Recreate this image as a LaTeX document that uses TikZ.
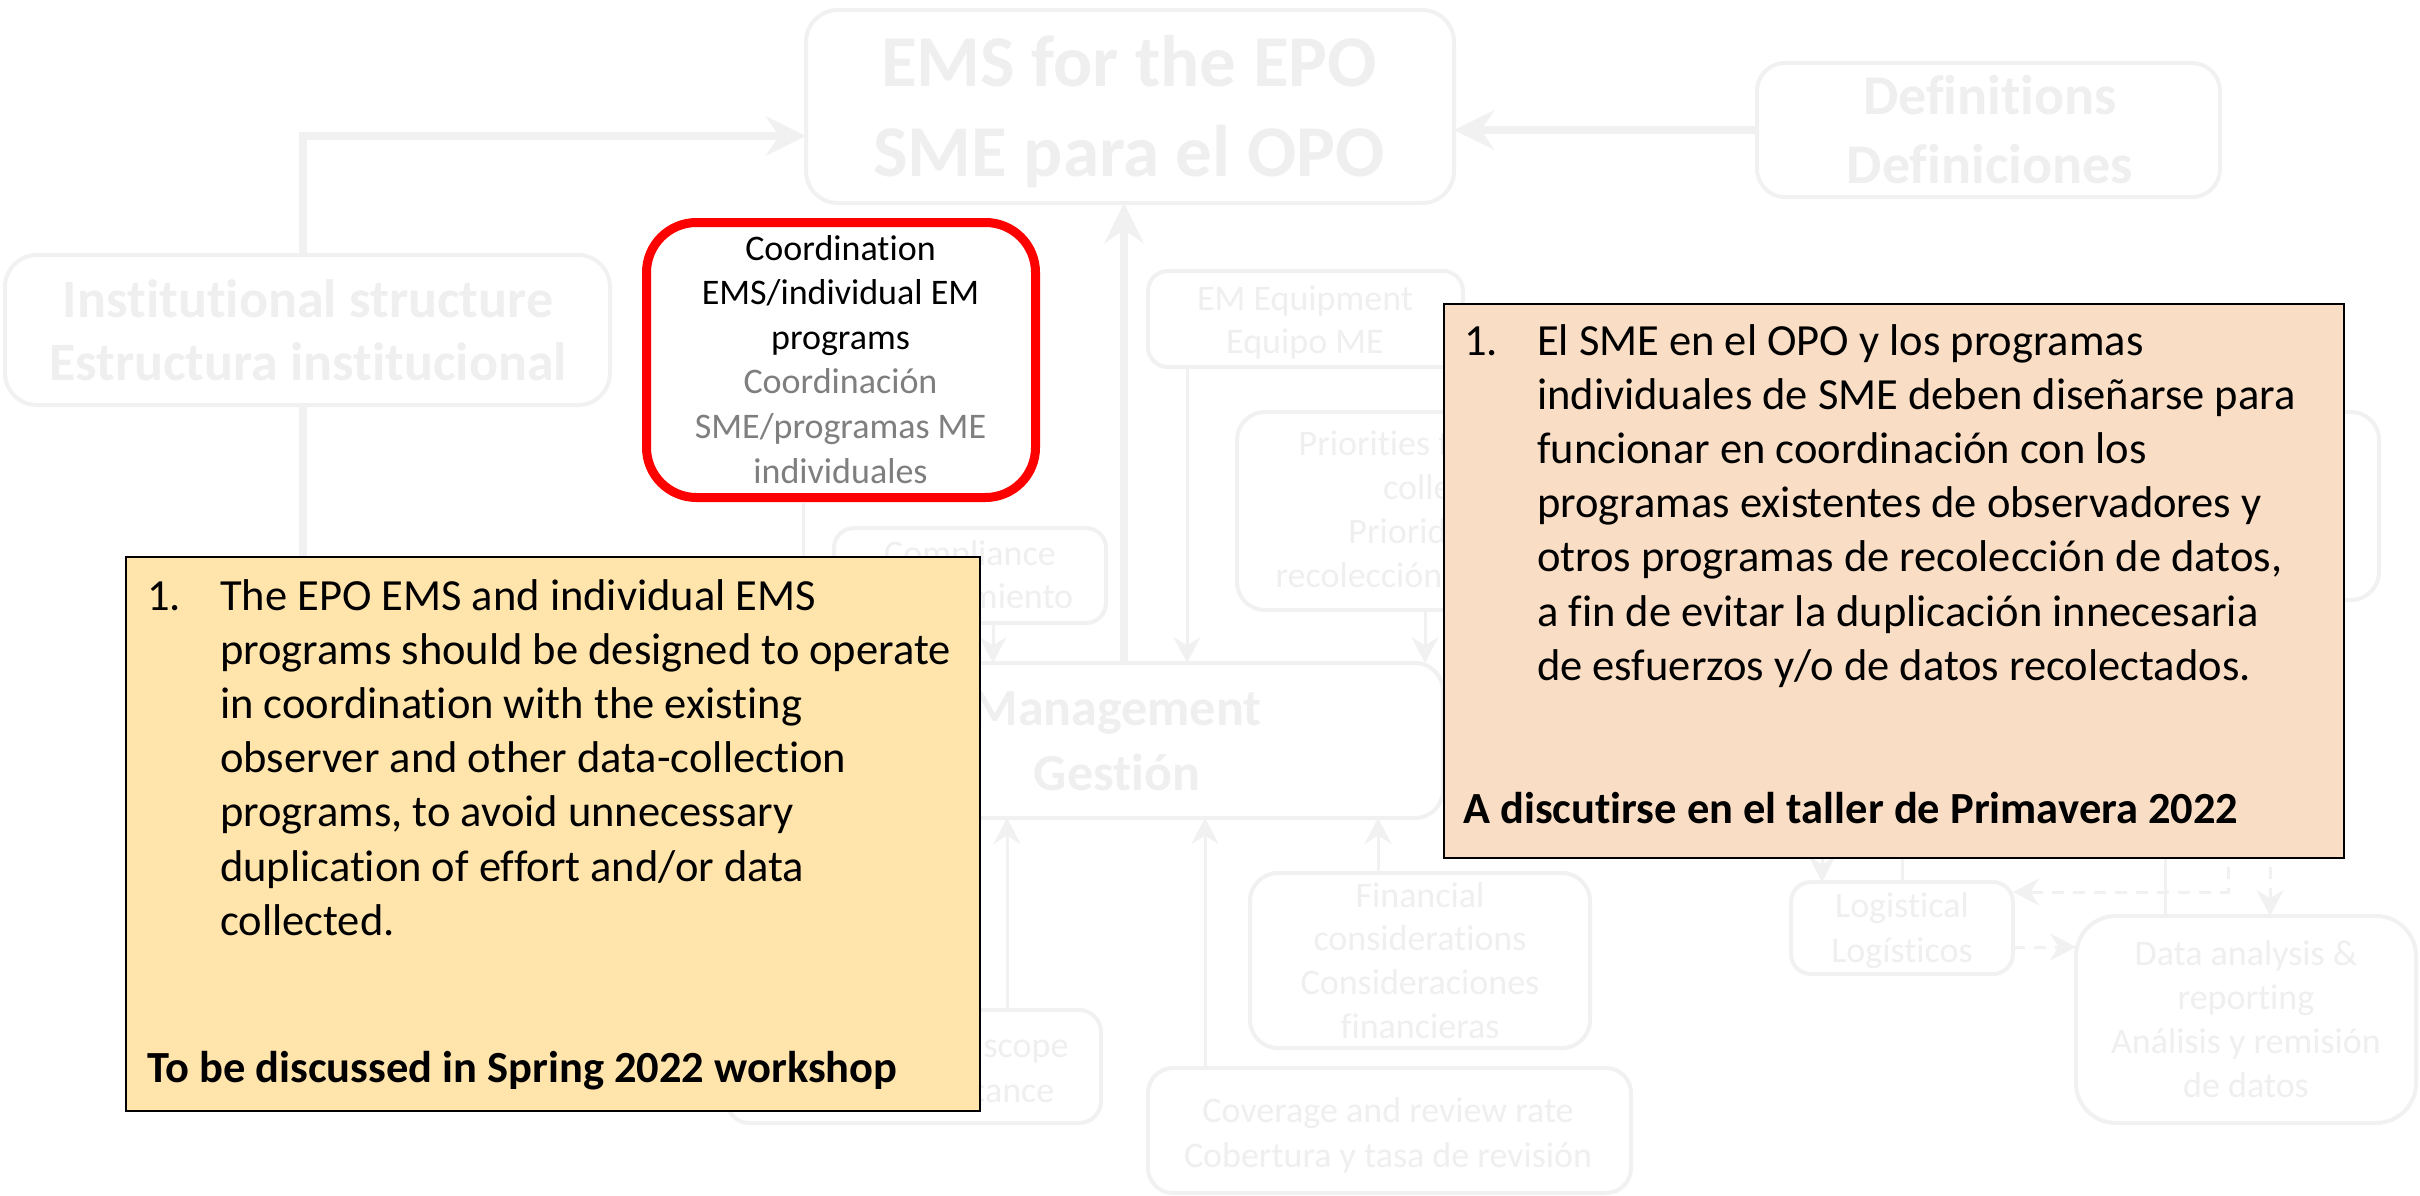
\documentclass[tikz,border=0pt]{standalone}
\usepackage{fontspec}
\setmainfont{Carlito}[Ligatures=NoCommon]
\usetikzlibrary{arrows.meta}
\definecolor{fadeln}{RGB}{241,241,241}
\definecolor{fadetxt}{RGB}{239,239,239}
\definecolor{redbox}{RGB}{255,0,0}
\definecolor{graytxt}{RGB}{127,127,127}
\definecolor{yelfill}{RGB}{255,228,172}
\definecolor{orafill}{RGB}{249,221,196}
\newcommand{\mlc}[1]{\begin{tabular}[t]{@{}c@{}}#1\end{tabular}}
\tikzset{
  fb/.style={draw=fadeln, line width=4pt, rounded corners=#1, inner sep=0pt, outer sep=0pt},
  fb/.default=24pt,
  ft/.style={text=fadetxt, inner sep=0pt, anchor=base},
  thickar/.style={draw=fadeln, line width=8pt, -{Stealth[length=40pt,width=39pt]}},
  thickln/.style={draw=fadeln, line width=8pt},
  thinar/.style={draw=fadeln, line width=3pt, -{Stealth[length=26pt,width=27pt]}},
  thinln/.style={draw=fadeln, line width=3pt},
  dashar/.style={thinar, dash pattern=on 12pt off 9pt},
  notebox/.style={draw=black, line width=2.5pt, inner sep=0pt, outer sep=0pt},
  notetxt/.style={anchor=base west, inner sep=0pt, text=black}
}
\begin{document}
\begin{tikzpicture}[x=1pt,y=-1pt]
\fill[white] (0,0) rectangle (2420,1196);
\useasboundingbox (0,0) rectangle (2420,1196);

% ---------- faded background boxes ----------
\node[fb=32pt, minimum width=648pt, minimum height=193pt] (ems) at (1130,106.5) {};
\node[ft, font=\bfseries\fontsize{73}{90}\selectfont] (emsT) at (1129,87) {\mlc{EMS for the EPO\\SME para el OPO}};

\node[fb=28pt, minimum width=463pt, minimum height=134pt] (defs) at (1988.5,130) {};
\node[ft, font=\bfseries\fontsize{56}{69}\selectfont] (defsT) at (1990,115) {\mlc{Definitions\\Definiciones}};

\node[fb=32pt, minimum width=605pt, minimum height=150pt] (inst) at (307.5,330) {};
\node[ft, font=\bfseries\fontsize{54}{63}\selectfont] (instT) at (308,317) {\mlc{Institutional structure\\Estructura institucional}};

\node[fb=20pt, minimum width=315pt, minimum height=96pt] (emeq) at (1305.5,319) {};
\node[ft, font=\fontsize{36}{43}\selectfont] (emeqT) at (1305,310) {\mlc{EM Equipment\\Equipo ME}};

\node[fb=28pt, minimum width=434pt, minimum height=198pt] (prio) at (1454,511) {};
\node[ft, font=\fontsize{36}{44.3}\selectfont] (prioT) at (1454,455) {\mlc{Priorities for EM data\\collection\\Prioridades de\\recolección de datos ME}};

\node[fb=28pt, minimum width=679pt, minimum height=188pt] (rbox) at (2039.5,506) {};

\node[fb=20pt, minimum width=272pt, minimum height=95pt] (comp) at (970,575.5) {};
\node[ft, font=\fontsize{36}{43}\selectfont] (compT) at (970,565) {\mlc{Compliance\\Cumplimiento}};

\node[fb=28pt, minimum width=656pt, minimum height=155pt] (mgmt) at (1115,740.5) {};
\node[ft, font=\bfseries\fontsize{52}{65}\selectfont] (mgmtT) at (1117,725) {\mlc{Management\\Gestión}};

\node[fb=22pt, minimum width=374pt, minimum height=113pt] (obj) at (914,1066.5) {};
\node[ft, font=\fontsize{36}{45}\selectfont] (objT) at (914,1057) {\mlc{Objectives and scope\\Objetivos y alcance}};

\node[fb=28pt, minimum width=340pt, minimum height=175pt] (fin) at (1420,960.5) {};
\node[ft, font=\fontsize{36}{43.7}\selectfont] (finT) at (1420,907) {\mlc{Financial\\considerations\\Consideraciones\\financieras}};

\node[fb=25pt, minimum width=483pt, minimum height=125pt] (cov) at (1389.5,1130.5) {};
\node[ft, font=\fontsize{36}{45}\selectfont] (covT) at (1388,1122) {\mlc{Coverage and review rate\\Cobertura y tasa de revisión}};

\node[fb=20pt, minimum width=222pt, minimum height=92pt] (log) at (1902,928) {};
\node[ft, font=\fontsize{36}{45}\selectfont] (logT) at (1902,917) {\mlc{Logistical\\Logísticos}};

\node[fb=40pt, minimum width=340pt, minimum height=207pt] (data) at (2246,1019.5) {};
\node[ft, font=\fontsize{36}{44}\selectfont] (dataT) at (2246,965) {\mlc{Data analysis \&\\reporting\\Análisis y remisión\\de datos}};

% ---------- faded connectors ----------
\coordinate (cI) at (303,136);
\coordinate (cM) at (1124,0);
\coordinate (cE) at (1187,0);
\coordinate (cC) at (993,0);
\coordinate (cP) at (1425,0);
\coordinate (cR) at (803,0);
\coordinate (cO) at (1007,0);
\coordinate (cV) at (1205,0);
\coordinate (cF) at (1378,0);

\draw[thickar] (inst.north -| cI) |- (ems.west |- cI);
\draw[thickar] (defs.west) -- (ems.east |- defs.west);
\draw[thickar] (mgmt.north -| cM) -- (ems.south -| cM);
\draw[thickar] (inst.south -| cI) |- (mgmt.west);

\draw[thinar] (emeq.south -| cE) -- (mgmt.north -| cE);
\draw[thinar] (comp.south -| cC) -- (mgmt.north -| cC);
\draw[thinar] (prio.south -| cP) -- (mgmt.north -| cP);
\draw[thinln] (cR |- ems.south) ++(0,300) -- (mgmt.north -| cR);

\draw[thinar] (obj.north -| cO) -- (mgmt.south -| cO);
\draw[thinar] (cov.north -| cV) -- (mgmt.south -| cV);
\draw[thinar] (fin.north -| cF) -- (mgmt.south -| cF);

\coordinate (hL1) at (1822,840);
\coordinate (hL2) at (1902,840);
\coordinate (hD1) at (2165,840);
\coordinate (hD2) at (2228,846);
\coordinate (hD3) at (2270,846);
\coordinate (yD2) at (0,892);
\coordinate (yD4) at (0,947);
\draw[thinar] (hL1) -- (log.north -| hL1);
\draw[thinln] (hL2) -- (log.north);
\draw[thinln] (hD1) -- (data.north -| hD1);
\draw[dashar] (hD2) |- (log.east |- yD2);
\draw[dashar] (hD3) -- (data.north -| hD3);
\draw[dashar] (log.east |- yD4) -- (data.west |- yD4);

% ---------- highlighted box ----------
\node[draw=redbox, line width=9pt, rounded corners=50pt, fill=white, inner sep=0pt,
      minimum width=389pt, minimum height=275pt] (red) at (841,360) {};
\node[anchor=base, inner sep=0pt, text=black, font=\fontsize{36}{44.6}\selectfont] (redT) at (840.5,260)
  {\mlc{Coordination\\EMS/individual EM\\programs\\\color{graytxt}Coordinación\\\color{graytxt}SME/programas ME\\\color{graytxt}individuales}};

% ---------- notes ----------
\node[notebox, fill=yelfill, minimum width=854pt, minimum height=554pt] (yel) at (553,834) {};
\node[notetxt, font=\fontsize{44.5}{54.2}\selectfont] (yelT) at (147,610)
  {\begin{tabular}[t]{@{}l@{}l@{}}\makebox[73pt][l]{1.}&The EPO EMS and individual EMS\\
   &programs should be designed to operate\\
   &in coordination with the existing\\
   &observer and other data-collection\\
   &programs, to avoid unnecessary\\
   &duplication of effort and/or data\\
   &collected.\end{tabular}};
\node[notetxt, font=\fontsize{44.5}{54}\selectfont\bfseries] (yelB) at (147,1082) {To be discussed in Spring 2022 workshop};

\node[notebox, fill=orafill, minimum width=900pt, minimum height=554pt] (ora) at (1894,581) {};
\node[notetxt, font=\fontsize{44.5}{54.2}\selectfont] (oraT) at (1464,355)
  {\begin{tabular}[t]{@{}l@{}l@{}}\makebox[73pt][l]{1.}&El SME en el OPO y los programas\\
   &individuales de SME deben diseñarse para\\
   &funcionar en coordinación con los\\
   &programas existentes de observadores y\\
   &otros programas de recolección de datos,\\
   &a fin de evitar la duplicación innecesaria\\
   &de esfuerzos y/o de datos recolectados.\end{tabular}};
\node[notetxt, font=\fontsize{44.5}{54}\selectfont\bfseries] (oraB) at (1463,823) {A discutirse en el taller de Primavera 2022};
\end{tikzpicture}
\end{document}
